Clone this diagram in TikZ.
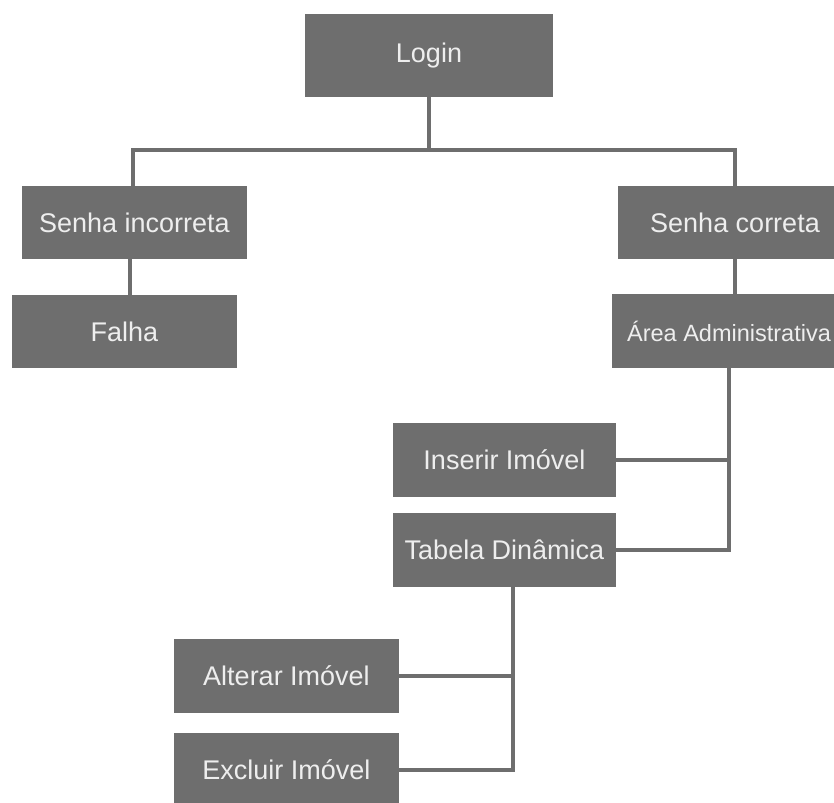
\documentclass[tikz,border=0pt]{standalone}
\usepackage{fontspec}
\setmainfont{Liberation Sans}
\usetikzlibrary{calc}
\definecolor{boxgray}{HTML}{6E6E6E}
\definecolor{txtwhite}{HTML}{EEEEEE}
\tikzset{
  box/.style={fill=boxgray, draw=none, text=txtwhite, inner sep=0pt,
    minimum width=225pt, minimum height=73pt,
    font=\fontsize{27}{30}\selectfont},
  link/.style={draw=boxgray, line width=4pt}
}
\begin{document}
\begin{tikzpicture}[x=1pt,y=-1pt]
\useasboundingbox (0,0) rectangle (834,802);
\fill[white] (0,0) rectangle (834,802);
\node[box, minimum width=248pt, minimum height=83pt] (login) at (429,55.5) {Login};
\node[box] (si) at (134.5,222.5) {Senha incorreta};
\node[box] (falha) at (124.5,331.5) {Falha};
\node[box, minimum width=234pt] (sc) at (735,222.5) {Senha correta};
\node[box, minimum width=234pt, minimum height=74pt, font=\fontsize{23.5}{26}\selectfont] (area) at (729,331) {Área Administrativa};
\node[box, minimum width=223pt, minimum height=74pt] (ins) at (504.5,460) {Inserir Imóvel};
\node[box, minimum width=223pt, minimum height=74pt] (tab) at (504.5,550) {Tabela Dinâmica};
\node[box, minimum height=74pt] (alt) at (286.5,676) {Alterar Imóvel};
\node[box] (exc) at (286.5,769.5) {Excluir Imóvel};
% connectors
\coordinate (bus) at (429,150);
\coordinate (sitop) at ($(si.north)+(-1.5,0)$);
\coordinate (sibot) at ($(si.south)+(-4.5,0)$);
\coordinate (tb) at ($(tab.south)+(8.5,0)$);
\draw[link] (login.south) -- (bus);
\draw[link] (sitop) |- (bus);
\draw[link] (sc.north) |- (bus);
\draw[link] (sibot) -- (sibot |- falha.north);
\draw[link] (sc.south) -- (sc.south |- area.north);
\draw[link] (area.south) |- (tab.east);
\draw[link] (ins.east) -- (ins.east -| area.south);
\draw[link] (tb) |- (exc.east);
\draw[link] (alt.east) -- (alt.east -| tb);
\end{tikzpicture}
\end{document}
